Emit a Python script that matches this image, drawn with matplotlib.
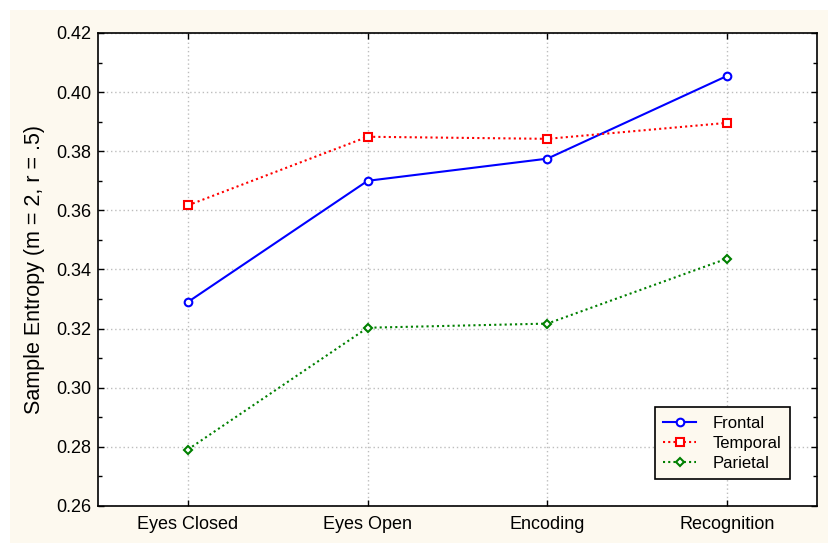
import matplotlib
matplotlib.use("Agg")
import matplotlib.pyplot as plt
from matplotlib.patches import Rectangle
from matplotlib.ticker import MultipleLocator

plt.rcParams['font.family'] = ['Liberation Sans', 'DejaVu Sans']

conditions = ["Eyes Closed", "Eyes Open", "Encoding", "Recognition"]
frontal = [0.329, 0.370, 0.3775, 0.4055]
temporal = [0.3617, 0.3849, 0.3842, 0.3896]
parietal = [0.2791, 0.3203, 0.3217, 0.3437]

cream = "#fdf9ef"
fig = plt.figure(figsize=(8.29, 5.43), dpi=100)
fig.patch.set_facecolor("white")
fig.patches.append(Rectangle((10/829, 0), 1, 1 - 10/543, transform=fig.transFigure,
                             facecolor=cream, edgecolor="none", zorder=-10))

ax = fig.add_axes([98/829, 1 - 506/543, (817-98)/829, (506-33)/543])
ax.set_facecolor("white")
x = list(range(len(conditions)))
ax.plot(x, frontal, color="#0000ff", lw=1.5, ls="-", marker="o", ms=5.5,
        mfc="white", mec="#0000ff", mew=1.5, label="Frontal", zorder=3)
ax.plot(x, temporal, color="#ff0000", lw=1.5, ls=(0, (1, 1.5)), marker="s", ms=5.5,
        mfc="white", mec="#ff0000", mew=1.5, label="Temporal", zorder=3)
ax.plot(x, parietal, color="#008000", lw=1.5, ls=(0, (1, 1.5)), marker="D", ms=4.5,
        mfc="white", mec="#008000", mew=1.5, label="Parietal", zorder=3)

ax.set_xlim(-0.5, 3.5)
ax.set_ylim(0.26, 0.42)
ax.set_xticks(x)
ax.set_xticklabels(conditions)
ax.yaxis.set_major_locator(MultipleLocator(0.02))
ax.yaxis.set_minor_locator(MultipleLocator(0.01))
ax.yaxis.set_major_formatter(matplotlib.ticker.FormatStrFormatter("%.2f"))
ax.tick_params(axis="both", which="both", direction="in", top=True, right=True,
               labelsize=13, colors="black", width=1)
ax.tick_params(which="major", length=4)
ax.tick_params(which="minor", length=3)
ax.tick_params(axis="x", pad=7)
ax.tick_params(axis="y", pad=5)
ax.grid(True, which="major", color="#bdbdbd", ls=(0, (1, 2)), lw=1)
for s in ax.spines.values():
    s.set_linewidth(1.2)
ax.set_ylabel("Sample Entropy (m = 2, r = .5)", fontsize=15.5, labelpad=8)

leg = ax.legend(loc="lower right", bbox_to_anchor=((790-98)/719, (506-479)/473),
                fontsize=12, frameon=True, fancybox=False, edgecolor="black",
                facecolor=cream, framealpha=1, borderaxespad=0, handlelength=2.0,
                labelspacing=0.3, borderpad=0.5, handletextpad=1.0)
leg.get_frame().set_linewidth(1.2)

fig.savefig("out.png", dpi=100, facecolor=fig.get_facecolor())
